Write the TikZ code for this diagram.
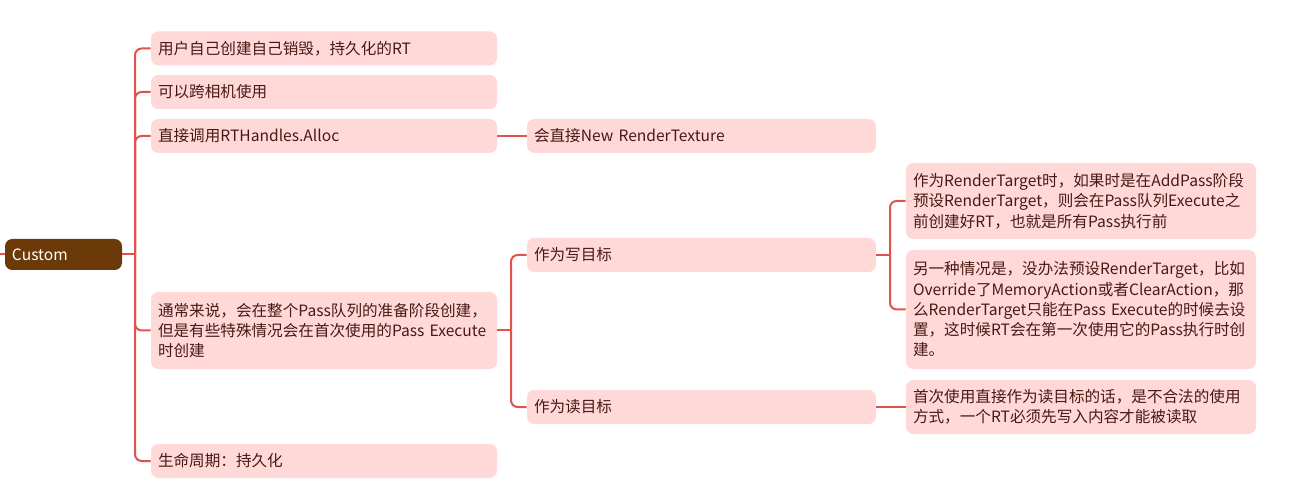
\documentclass[tikz,border=0pt]{standalone}
\usepackage{fontspec}
\setmainfont{Noto Sans CJK SC}
\usepackage{tikz}

\definecolor{boxpink}{HTML}{FFD9D8}
\definecolor{linered}{HTML}{E0524C}
\definecolor{inktext}{HTML}{4A1A12}
\definecolor{rootbrown}{HTML}{6C3A08}

\begin{document}
\begin{tikzpicture}[x=0.75pt,y=-0.75pt,
    topic/.style={rounded corners=5.5pt,fill=boxpink,text=inktext,inner xsep=5.25pt,inner ysep=0pt,
        align=left,minimum height=25.5pt,font=\fontsize{11.7}{15.2}\selectfont},
    lvone/.style={topic,text width=249pt},
    lvtwo/.style={topic,text width=251.25pt},
    lvthree/.style={topic,text width=252pt},
    branch/.style={draw=linered,line width=1.5pt,rounded corners=5pt}]
\useasboundingbox (0,0) rectangle (1291,484);

\node[rounded corners=5.5pt,fill=rootbrown,text=white,inner xsep=5.25pt,inner ysep=0pt,
    text width=77.25pt,minimum height=23.25pt,align=left,font=\fontsize{11.7}{15.2}\selectfont]
    (custom) at (63.5,254.5) {Custom};

\node[lvone] (b1) at (324,48.5) {用户自己创建自己销毁，持久化的RT};
\node[lvone] (b2) at (324,92) {可以跨相机使用};
\node[lvone] (b3) at (324,136) {直接调用RTHandles.Alloc};
\node[lvone,minimum height=57.75pt] (b4) at (324,330.5)
    {通常来说，会在整个Pass队列的准备阶段创建，\\但是有些特殊情况会在首次使用的Pass~Execute\\时创建};
\node[lvone] (b5) at (324,461) {生命周期：持久化};

\node[lvtwo] (c1) at (701.5,136) {会直接New~RenderTexture};
\node[lvtwo] (c2) at (701.5,255) {作为写目标};
\node[lvtwo] (c3) at (701.5,407) {作为读目标};

\node[lvthree,minimum height=57pt] (d1) at (1081,201)
    {作为RenderTarget时，如果时是在AddPass阶段\\预设RenderTarget，则会在Pass队列Execute之\\前创建好RT，也就是所有Pass执行前};
\node[lvthree,minimum height=89.25pt] (d2) at (1081,309.5)
    {另一种情况是，没办法预设RenderTarget，比如\\Override了MemoryAction或者ClearAction，那\\么RenderTarget只能在Pass~Execute的时候去设\\置，这时候RT会在第一次使用它的Pass执行时创\\建。};
\node[lvthree,minimum height=40.5pt] (d3) at (1081,407)
    {首次使用直接作为读目标的话，是不合法的使用\\方式，一个RT必须先写入内容才能被读取};

\coordinate (offleft) at (0,254.5);
\coordinate (ja) at (135,254.5);
\coordinate (jb) at (511,330.5);
\coordinate (jc) at (890,255);

\draw[branch] (offleft) -- (custom.west);
\draw[branch] (custom.east) -- (ja);
\foreach \b in {b1,b2,b3,b4,b5}
    \draw[branch] (ja) |- (\b.west);

\draw[branch] (b3.east) -- (c1.west);
\draw[branch] (b4.east) -- (jb);
\draw[branch] (jb) |- (c2.west);
\draw[branch] (jb) |- (c3.west);

\draw[branch] (c2.east) -- (jc);
\draw[branch] (jc) |- (d1.west);
\draw[branch] (jc) |- (d2.west);
\draw[branch] (c3.east) -- (d3.west);

\end{tikzpicture}
\end{document}
